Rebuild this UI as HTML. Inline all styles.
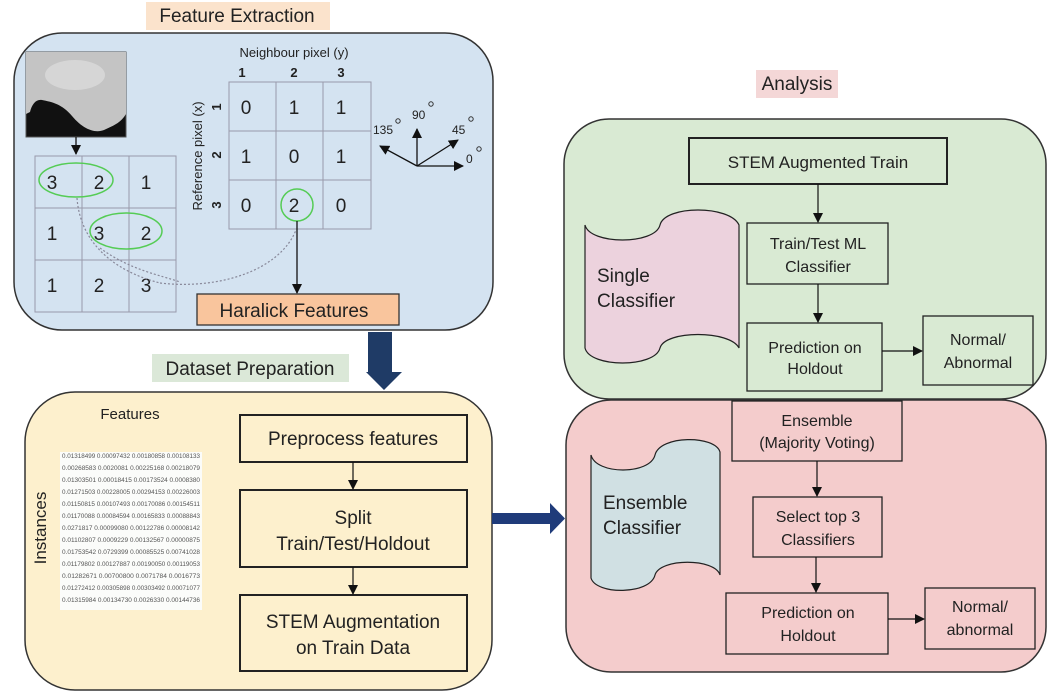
<!DOCTYPE html>
<html><head><meta charset="utf-8"><style>
html,body{margin:0;padding:0;background:#fff;}
svg{display:block;font-family:"Liberation Sans",Arial,sans-serif;}
</style></head><body>
<svg width="1054" height="698" viewBox="0 0 1054 698" xmlns="http://www.w3.org/2000/svg">
<defs>
<marker id="ah" markerWidth="10" markerHeight="10" refX="9" refY="5" orient="auto" markerUnits="userSpaceOnUse"><path d="M0,0 L10,5 L0,10 z" fill="#111"/></marker>
</defs>
<rect width="1054" height="698" fill="#fff"/>

<!-- Feature Extraction -->
<rect x="146" y="2" width="184" height="28" fill="#fbe3cc"/>
<text x="237" y="22" font-size="19" text-anchor="middle" fill="#222">Feature Extraction</text>
<rect x="14" y="33" width="479" height="297" rx="48" fill="#d4e3f1" stroke="#333" stroke-width="1.5"/>

<!-- image -->
<rect x="26" y="52" width="100" height="85" fill="#111" stroke="#555"/>
<path d="M26,52 H126 V114 C120,124 112,126 104,130 C94,134 82,128 72,116 C62,104 52,102 42,100 C36,99 32,104 30,112 L26,114 Z" fill="#c4c4c4"/>
<ellipse cx="75" cy="75" rx="30" ry="15" fill="#d6d6d6"/>

<line x1="76" y1="137" x2="76" y2="154" stroke="#111" stroke-width="1.3" marker-end="url(#ah)"/>

<!-- left grid -->
<g stroke="#99a" stroke-width="1" fill="none">
<rect x="35" y="156" width="141" height="156"/>
<line x1="82" y1="156" x2="82" y2="312"/><line x1="129" y1="156" x2="129" y2="312"/>
<line x1="35" y1="208" x2="176" y2="208"/><line x1="35" y1="260" x2="176" y2="260"/>
</g>
<g font-size="19" fill="#222" text-anchor="middle">
<text x="52" y="189">3</text><text x="99" y="189">2</text><text x="146" y="189">1</text>
<text x="52" y="240">1</text><text x="99" y="240">3</text><text x="146" y="240">2</text>
<text x="52" y="292">1</text><text x="99" y="292">2</text><text x="146" y="292">3</text>
</g>
<ellipse cx="76" cy="180" rx="37" ry="17" fill="none" stroke="#5c5" stroke-width="1.5"/>
<ellipse cx="126" cy="231" rx="36" ry="18" fill="none" stroke="#5c5" stroke-width="1.5"/>
<path d="M77,198 C80,240 110,270 160,283" fill="none" stroke="#889" stroke-width="1.2" stroke-dasharray="2,2"/>
<path d="M100,248 C130,270 160,275 180,282" fill="none" stroke="#889" stroke-width="1.2" stroke-dasharray="2,2"/>
<path d="M160,283 C220,290 280,270 296,230" fill="none" stroke="#889" stroke-width="1.2" stroke-dasharray="2,2"/>

<!-- right grid -->
<text x="294" y="57" font-size="13" text-anchor="middle" fill="#222">Neighbour pixel (y)</text>
<g font-size="13" font-weight="bold" fill="#222" text-anchor="middle">
<text x="242" y="77">1</text><text x="294" y="77">2</text><text x="341" y="77">3</text>
</g>
<text transform="translate(202,156) rotate(-90)" font-size="13" text-anchor="middle" fill="#222">Reference pixel (x)</text>
<g font-size="13" font-weight="bold" fill="#222" text-anchor="middle">
<text transform="translate(221,107) rotate(-90)">1</text>
<text transform="translate(221,155) rotate(-90)">2</text>
<text transform="translate(221,205) rotate(-90)">3</text>
</g>
<g stroke="#99a" stroke-width="1" fill="none">
<rect x="229" y="82" width="142" height="147"/>
<line x1="276" y1="82" x2="276" y2="229"/><line x1="323" y1="82" x2="323" y2="229"/>
<line x1="229" y1="131" x2="371" y2="131"/><line x1="229" y1="180" x2="371" y2="180"/>
</g>
<g font-size="19" fill="#222" text-anchor="middle">
<text x="246" y="114">0</text><text x="294" y="114">1</text><text x="341" y="114">1</text>
<text x="246" y="163">1</text><text x="294" y="163">0</text><text x="341" y="163">1</text>
<text x="246" y="212">0</text><text x="294" y="212">2</text><text x="341" y="212">0</text>
</g>
<circle cx="297" cy="205" r="16" fill="none" stroke="#5c5" stroke-width="1.5"/>
<line x1="297" y1="221" x2="297" y2="293" stroke="#111" stroke-width="1.3" marker-end="url(#ah)"/>

<!-- angles -->
<g stroke="#111" stroke-width="1.3">
<line x1="417" y1="166" x2="463" y2="166" marker-end="url(#ah)"/>
<line x1="417" y1="166" x2="417" y2="129" marker-end="url(#ah)"/>
<line x1="417" y1="166" x2="458" y2="140" marker-end="url(#ah)"/>
<line x1="417" y1="166" x2="380" y2="146" marker-end="url(#ah)"/>
</g>
<g font-size="12" fill="#222">
<text x="373" y="134">135</text><text x="412" y="119">90</text><text x="452" y="134">45</text><text x="466" y="163">0</text>
</g>
<g fill="none" stroke="#333" stroke-width="1">
<circle cx="398" cy="121" r="2.2"/><circle cx="431" cy="104" r="2.2"/><circle cx="471" cy="119" r="2.2"/><circle cx="479" cy="149" r="2.2"/>
</g>

<!-- Haralick -->
<rect x="197" y="294" width="202" height="31" fill="#f9c59d" stroke="#333" stroke-width="1.3"/>
<text x="294" y="317" font-size="19" text-anchor="middle" fill="#222">Haralick Features</text>

<!-- big down arrow -->
<path d="M368,332 H392 V372 H402 L384,390 L366,372 H368 Z" fill="#1f3b66"/>

<!-- Dataset Preparation -->
<rect x="152" y="354" width="197" height="28" fill="#dbe8d8"/>
<text x="250" y="375" font-size="19" text-anchor="middle" fill="#222">Dataset Preparation</text>

<rect x="25" y="392" width="467" height="298" rx="50" fill="#fdf0cd" stroke="#333" stroke-width="1.5"/>
<text x="130" y="419" font-size="15" text-anchor="middle" fill="#222">Features</text>
<text transform="translate(46,528) rotate(-90)" font-size="17" text-anchor="middle" fill="#222">Instances</text>
<rect x="60" y="452" width="142" height="158" fill="#fbfcfa"/>
<g font-size="6" fill="#555" font-family="Liberation Sans Narrow, Liberation Sans, sans-serif">
<text x="62" y="458" textLength="138" lengthAdjust="spacingAndGlyphs">0.01318499   0.00097432   0.00180858   0.00108133</text>
<text x="62" y="470" textLength="138" lengthAdjust="spacingAndGlyphs">0.00268583   0.0020081    0.00225168   0.00218079</text>
<text x="62" y="482" textLength="138" lengthAdjust="spacingAndGlyphs">0.01303501   0.00018415   0.00173524   0.0008380</text>
<text x="62" y="494" textLength="138" lengthAdjust="spacingAndGlyphs">0.01271503   0.00228005   0.00294153   0.00226003</text>
<text x="62" y="506" textLength="138" lengthAdjust="spacingAndGlyphs">0.01150815   0.00107493   0.00170086   0.00154511</text>
<text x="62" y="518" textLength="138" lengthAdjust="spacingAndGlyphs">0.01170088   0.00084594   0.00165833   0.00088843</text>
<text x="62" y="530" textLength="138" lengthAdjust="spacingAndGlyphs">0.0271817    0.00099080   0.00122786   0.00008142</text>
<text x="62" y="542" textLength="138" lengthAdjust="spacingAndGlyphs">0.01102807   0.0009229    0.00132567   0.00000875</text>
<text x="62" y="554" textLength="138" lengthAdjust="spacingAndGlyphs">0.01753542   0.0729399    0.00085525   0.00741028</text>
<text x="62" y="566" textLength="138" lengthAdjust="spacingAndGlyphs">0.01179802   0.00127887   0.00190050   0.00119053</text>
<text x="62" y="578" textLength="138" lengthAdjust="spacingAndGlyphs">0.01282671   0.00700800   0.0071784    0.0016773</text>
<text x="62" y="590" textLength="138" lengthAdjust="spacingAndGlyphs">0.01272412   0.00305898   0.00303492   0.00071077</text>
<text x="62" y="602" textLength="138" lengthAdjust="spacingAndGlyphs">0.01315984   0.00134730   0.0026330    0.00144736</text>
</g>

<g stroke="#222" stroke-width="2" fill="#fdf0cd">
<rect x="240" y="415" width="227" height="47"/>
<rect x="240" y="490" width="227" height="77"/>
<rect x="240" y="595" width="227" height="76"/>
</g>
<g font-size="19" text-anchor="middle" fill="#222">
<text x="353" y="445">Preprocess features</text>
<text x="353" y="524">Split</text><text x="353" y="550">Train/Test/Holdout</text>
<text x="353" y="628">STEM Augmentation</text><text x="353" y="654">on Train Data</text>
</g>
<line x1="353" y1="462" x2="353" y2="489" stroke="#111" stroke-width="1.2" marker-end="url(#ah)"/>
<line x1="353" y1="567" x2="353" y2="594" stroke="#111" stroke-width="1.2" marker-end="url(#ah)"/>

<!-- right arrow -->
<path d="M492,513 H550 V503 L565,518.5 L550,534 V524 H492 Z" fill="#1f3b7a"/>

<!-- Analysis -->
<rect x="756" y="70" width="82" height="28" fill="#f4d7d7"/>
<text x="797" y="90" font-size="19" text-anchor="middle" fill="#222">Analysis</text>

<rect x="564" y="119" width="482" height="280" rx="45" fill="#d9ead3" stroke="#333" stroke-width="1.5"/>
<path d="M585,225 C590,245 655,245 660,225 C665,205 730,205 739,225 V348 C730,330 665,330 660,348 C655,368 590,368 585,348 Z" fill="#ecd2dd" stroke="#222" stroke-width="1.2"/>
<text x="597" y="282" font-size="19" fill="#222">Single</text>
<text x="597" y="307" font-size="19" fill="#222">Classifier</text>
<rect x="689" y="138" width="258" height="46" fill="#d9ead3" stroke="#222" stroke-width="2"/>
<text x="818" y="168" font-size="17" text-anchor="middle" fill="#222">STEM Augmented Train</text>
<rect x="747" y="223" width="141" height="61" fill="#d9ead3" stroke="#222" stroke-width="1.3"/>
<text x="818" y="249" font-size="16" text-anchor="middle" fill="#222">Train/Test ML</text>
<text x="818" y="272" font-size="16" text-anchor="middle" fill="#222">Classifier</text>
<rect x="747" y="323" width="135" height="68" fill="#d9ead3" stroke="#222" stroke-width="1.3"/>
<text x="815" y="353" font-size="16" text-anchor="middle" fill="#222">Prediction on</text>
<text x="815" y="374" font-size="16" text-anchor="middle" fill="#222">Holdout</text>
<rect x="923" y="316" width="110" height="69" fill="#d9ead3" stroke="#222" stroke-width="1.3"/>
<text x="978" y="345" font-size="16" text-anchor="middle" fill="#222">Normal/</text>
<text x="978" y="368" font-size="16" text-anchor="middle" fill="#222">Abnormal</text>
<line x1="818" y1="184" x2="818" y2="222" stroke="#111" stroke-width="1.2" marker-end="url(#ah)"/>
<line x1="818" y1="284" x2="818" y2="322" stroke="#111" stroke-width="1.2" marker-end="url(#ah)"/>
<line x1="882" y1="351" x2="922" y2="351" stroke="#111" stroke-width="1.2" marker-end="url(#ah)"/>

<!-- Ensemble -->
<rect x="566" y="400" width="480" height="272" rx="45" fill="#f4cccc" stroke="#333" stroke-width="1.5"/>
<path d="M591,455 C596,475 650,475 655,455 C660,435 715,435 720,452 V575 C715,558 660,558 655,575 C650,595 596,595 591,578 Z" fill="#d0e0e3" stroke="#222" stroke-width="1.2"/>
<text x="603" y="509" font-size="19" fill="#222">Ensemble</text>
<text x="603" y="534" font-size="19" fill="#222">Classifier</text>
<rect x="732" y="401" width="170" height="60" fill="#f4cccc" stroke="#222" stroke-width="1.3"/>
<text x="817" y="426" font-size="16" text-anchor="middle" fill="#222">Ensemble</text>
<text x="817" y="448" font-size="16" text-anchor="middle" fill="#222">(Majority Voting)</text>
<rect x="753" y="497" width="129" height="60" fill="#f4cccc" stroke="#222" stroke-width="1.3"/>
<text x="818" y="522" font-size="16" text-anchor="middle" fill="#222">Select top 3</text>
<text x="818" y="545" font-size="16" text-anchor="middle" fill="#222">Classifiers</text>
<rect x="726" y="593" width="162" height="61" fill="#f4cccc" stroke="#222" stroke-width="1.3"/>
<text x="808" y="618" font-size="16" text-anchor="middle" fill="#222">Prediction on</text>
<text x="808" y="641" font-size="16" text-anchor="middle" fill="#222">Holdout</text>
<rect x="925" y="588" width="110" height="61" fill="#f4cccc" stroke="#222" stroke-width="1.3"/>
<text x="980" y="612" font-size="16" text-anchor="middle" fill="#222">Normal/</text>
<text x="980" y="635" font-size="16" text-anchor="middle" fill="#222">abnormal</text>
<line x1="817" y1="461" x2="817" y2="496" stroke="#111" stroke-width="1.2" marker-end="url(#ah)"/>
<line x1="816" y1="557" x2="816" y2="592" stroke="#111" stroke-width="1.2" marker-end="url(#ah)"/>
<line x1="888" y1="619" x2="924" y2="619" stroke="#111" stroke-width="1.2" marker-end="url(#ah)"/>
</svg>
</body></html>
